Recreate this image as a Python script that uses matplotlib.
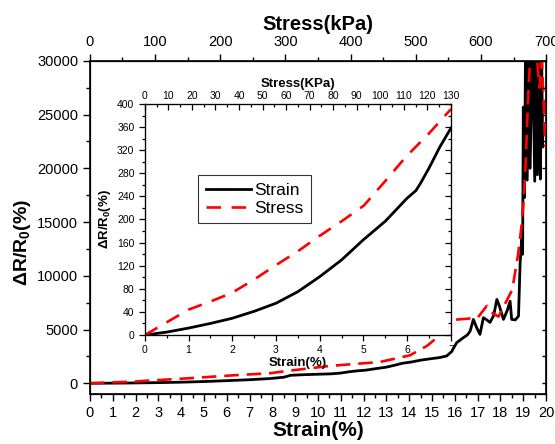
import numpy as np
import matplotlib
matplotlib.use('Agg')
import matplotlib.pyplot as plt
from matplotlib.ticker import MultipleLocator

plt.rcParams['font.family'] = ['Liberation Sans', 'DejaVu Sans']
plt.rcParams['mathtext.fontset'] = 'custom'
plt.rcParams['mathtext.rm'] = 'Liberation Sans'
plt.rcParams['mathtext.bf'] = 'Liberation Sans:bold'
plt.rcParams['mathtext.default'] = 'bf'

# main plot: resistance change vs strain (%)
strain_x = [0, 1, 2, 3, 4, 5, 6, 7, 7.9, 8.5, 8.8, 9.3, 10.0, 10.6, 11.0, 11.4, 11.7,
            12.1, 12.5, 13.0, 13.4, 13.7, 14.1, 14.5, 15.0, 15.3, 15.64, 15.86,
            16.08, 16.37, 16.55, 16.67, 16.81, 16.95, 17.1, 17.25, 17.4, 17.54,
            17.7, 17.84, 17.95, 18.13, 18.3, 18.42, 18.49, 18.65, 18.79, 18.86,
            18.93, 18.97, 19.0, 19.05, 19.1, 19.17, 19.25, 19.3, 19.4, 19.5,
            19.55, 19.62, 19.7, 19.75, 19.8, 19.85]
strain_y = [0, 10, 30, 60, 100, 160, 240, 330, 440, 560, 740, 790, 840, 880, 950,
            1080, 1150, 1220, 1350, 1500, 1700, 1860, 1980, 2150, 2300, 2380, 2540,
            2950, 3780, 4240, 4500, 4860, 5940, 5200, 4550, 6100, 5900, 5660, 6300,
            7800, 7200, 5940, 6800, 7640, 5940, 5900, 6250, 11200, 13370, 12000,
            25700, 17300, 32000, 18900, 32000, 20000, 33000, 18800, 32000, 19400,
            32000, 19000, 31000, 22000]

# main plot: resistance change vs stress (kPa)
stress_x = [0, 30, 70, 82, 140, 220, 276, 302, 368, 445, 491, 517, 545, 557, 578,
            595, 609, 616, 627, 637, 648, 657, 662, 666, 669, 672, 676, 683,
            690, 693, 699]
stress_y = [0, 70, 160, 220, 420, 740, 930, 1140, 1610, 1980, 2600, 3470, 4860,
            5900, 6000, 6100, 7200, 6600, 6200, 7400, 8700, 12000, 14500, 17400,
            21000, 26000, 31000, 32000, 27500, 31000, 22000]

# inset data
in_strain_x = [0, 0.5, 1, 1.5, 2, 2.5, 3, 3.5, 4, 4.5, 5, 5.5, 6, 6.2, 6.3, 6.5, 6.75, 7]
in_strain_y = [0, 5, 12, 20, 29, 41, 55, 75, 101, 130, 165, 197, 237, 250, 262, 289, 326, 358]
in_stress_x = [0, 9.3, 18.6, 27.9, 37, 46.4, 55.3, 65, 74, 83.6, 93, 102, 111, 120.7, 130]
in_stress_y = [0, 22, 44, 58, 73, 96, 120, 145, 171, 197, 224, 266, 309, 349, 391]

fig = plt.figure(figsize=(5.55, 4.44), dpi=100)
ax = fig.add_axes([0.162, 0.1126, 0.822, 0.7503])
ax.plot(strain_x, strain_y, color='black', lw=2.0)
ax.set_xlim(0, 20)
ax.set_ylim(-1000, 30000)
ax.xaxis.set_major_locator(MultipleLocator(1))
ax.xaxis.set_minor_locator(MultipleLocator(0.5))
ax.yaxis.set_major_locator(MultipleLocator(5000))
ax.yaxis.set_minor_locator(MultipleLocator(2500))
ax.tick_params(which='both', direction='out', labelsize=10.5, width=1.0)
ax.tick_params(which='major', length=5)
ax.tick_params(which='minor', length=3)
ax.tick_params(axis='y', which='both', right=False)
ax.set_xlabel('Strain(%)', fontsize=15, fontweight='bold', labelpad=1)
ax.set_ylabel('ΔR/R$_0$(%)', fontsize=14, fontweight='bold')
ax.yaxis.set_label_coords(-0.125, 0.456)
for s in ax.spines.values():
    s.set_linewidth(1.2)

# top axis: stress
ax2 = ax.twiny()
ax2.plot(stress_x, stress_y, color='red', lw=1.9, ls=(0, (5.5, 3)))
ax2.set_xlim(0, 700)
ax2.xaxis.set_major_locator(MultipleLocator(100))
ax2.xaxis.set_minor_locator(MultipleLocator(50))
ax2.tick_params(which='both', direction='out', labelsize=10.5, width=1.0)
ax2.tick_params(which='major', length=5)
ax2.tick_params(which='minor', length=3)
ax2.set_xlabel('Stress(kPa)', fontsize=14.5, fontweight='bold', labelpad=4)

# right ticks point inward
ax3 = ax.twinx()
ax3.set_ylim(ax.get_ylim())
ax3.yaxis.set_major_locator(MultipleLocator(2500))
ax3.tick_params(axis='y', direction='in', length=3, labelright=False, width=1.0)

# inset
axi = fig.add_axes([0.261, 0.2455, 0.5514, 0.5203])
l1, = axi.plot(in_strain_x, in_strain_y, color='black', lw=2.0, label='Strain')
axi.set_xlim(0, 7)
axi.set_ylim(0, 400)
axi.xaxis.set_major_locator(MultipleLocator(1))
axi.xaxis.set_minor_locator(MultipleLocator(0.5))
axi.yaxis.set_major_locator(MultipleLocator(40))
axi.yaxis.set_minor_locator(MultipleLocator(20))
axi.tick_params(which='both', direction='out', labelsize=7.5, width=0.9)
axi.tick_params(which='major', length=4)
axi.tick_params(which='minor', length=2.5)
axi.tick_params(axis='y', which='both', right=False)
axi.set_xlabel('Strain(%)', fontsize=9.5, fontweight='bold', labelpad=1)
axi.set_ylabel('ΔR/R$_0$(%)', fontsize=9.5, fontweight='bold', labelpad=3)

axt = axi.twiny()
l2, = axt.plot(in_stress_x, in_stress_y, color='red', lw=1.9, ls=(0, (5.5, 4)), label='Stress')
axt.set_xlim(0, 130)
axt.xaxis.set_major_locator(MultipleLocator(10))
axt.xaxis.set_minor_locator(MultipleLocator(5))
axt.tick_params(which='both', direction='in', labelsize=7.5, width=0.9, pad=2)
axt.tick_params(which='major', length=4)
axt.tick_params(which='minor', length=2.5)
axt.set_xlabel('Stress(KPa)', fontsize=9.5, fontweight='bold', labelpad=3)

axr = axi.twinx()
axr.set_ylim(0, 400)
axr.yaxis.set_major_locator(MultipleLocator(40))
axr.yaxis.set_minor_locator(MultipleLocator(20))
axr.tick_params(axis='y', which='both', direction='in', labelright=False, width=0.9)
axr.tick_params(axis='y', which='major', length=4)
axr.tick_params(axis='y', which='minor', length=2.5)

leg = axr.legend(handles=[l1, l2], loc='upper left', bbox_to_anchor=(0.173, 0.693),
                 borderaxespad=0, fontsize=12.5, frameon=True, fancybox=False,
                 handlelength=2.6, handletextpad=0.2, labelspacing=0.15,
                 borderpad=0.45)
leg.get_frame().set_edgecolor('black')
leg.get_frame().set_linewidth(0.8)

fig.savefig('out.png', dpi=100)
